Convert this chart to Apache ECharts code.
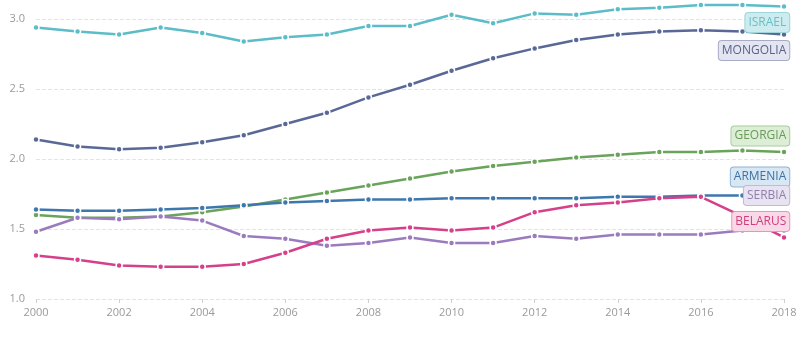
<!DOCTYPE html>
<html>
<head>
<meta charset="utf-8">
<script src="https://cdn.jsdelivr.net/npm/echarts@6/dist/echarts.min.js"></script>
<style>
html,body{margin:0;padding:0;background:#fff;}
#chart{width:807px;height:337px;}
</style>
</head>
<body>
<div id="chart"></div>
<script>
const years = ['2000','2001','2002','2003','2004','2005','2006','2007','2008','2009','2010','2011','2012','2013','2014','2015','2016','2017','2018'];
const yTicks = [1.0, 1.5, 2.0, 2.5, 3.0];

const israel   = [2.94,2.91,2.89,2.94,2.90,2.84,2.87,2.89,2.95,2.95,3.03,2.97,3.04,3.03,3.07,3.08,3.10,3.10,3.09];
const mongolia = [2.14,2.09,2.07,2.08,2.12,2.17,2.25,2.33,2.44,2.53,2.63,2.72,2.79,2.85,2.89,2.91,2.92,2.91,2.89];
const georgia  = [1.60,1.58,1.58,1.59,1.62,1.66,1.71,1.76,1.81,1.86,1.91,1.95,1.98,2.01,2.03,2.05,2.05,2.06,2.05];
const armenia  = [1.64,1.63,1.63,1.64,1.65,1.67,1.69,1.70,1.71,1.71,1.72,1.72,1.72,1.72,1.73,1.73,1.74,1.74,1.75];
const serbia   = [1.48,1.58,1.57,1.59,1.56,1.45,1.43,1.38,1.40,1.44,1.40,1.40,1.45,1.43,1.46,1.46,1.46,1.49,1.49];
const belarus  = [1.31,1.28,1.24,1.23,1.23,1.25,1.33,1.43,1.49,1.51,1.49,1.51,1.62,1.67,1.69,1.72,1.73,1.59,1.44];

const seriesDefs = [
  {name:'ISRAEL',   data:israel,   color:'#5cbcc8', bg:'#cdecef', border:'#9dd5db', text:'#6cbec7', dy:16},
  {name:'MONGOLIA', data:mongolia, color:'#596896', bg:'#e4e5f2', border:'#a8abc3', text:'#5b6384', dy:16},
  {name:'GEORGIA',  data:georgia,  color:'#6aa35a', bg:'#ddeed7', border:'#aacc9f', text:'#699a59', dy:-16},
  {name:'ARMENIA',  data:armenia,  color:'#3e77ae', bg:'#d7e7f3', border:'#8fb4d5', text:'#3e71a6', dy:-17},
  {name:'SERBIA',   data:serbia,   color:'#9a7bbd', bg:'#e9e3f1', border:'#c4b7d7', text:'#8f7fae', dy:-35},
  {name:'BELARUS',  data:belarus,  color:'#d5408a', bg:'#f9d9e7', border:'#e398ba', text:'#cf3f7f', dy:-16}
];

const series = seriesDefs.map(s => ({
  name: s.name,
  type: 'line',
  clip: false,
  symbol: 'circle',
  symbolSize: 6,
  showSymbol: true,
  lineStyle: {width: 2.5, color: s.color},
  itemStyle: {color: s.color, borderColor: '#fff', borderWidth: 1.5},
  emphasis: {disabled: true},
  data: s.data.map((v, i) => i === s.data.length - 1 ? {
    value: v,
    label: {
      show: true,
      formatter: s.name,
      position: 'left',
      distance: 5,
      offset: [14, s.dy],
      fontFamily: 'Open Sans',
      fontSize: 12,
      color: s.text,
      backgroundColor: s.bg,
      borderColor: s.border,
      borderWidth: 1,
      borderRadius: 3,
      padding: [4, 3, 3, 3]
    }
  } : v)
}));

const chart = echarts.init(document.getElementById('chart'));
chart.setOption({
  animation: false,
  grid: {left: 36, right: 23, top: 19, bottom: 38, containLabel: false},
  xAxis: {
    type: 'category',
    data: years,
    boundaryGap: false,
    axisLine: {show: false},
    axisTick: {show: true, interval: 1, length: 4, lineStyle: {color: '#cfcfcf', type: 'dashed'}},
    axisLabel: {interval: 1, color: '#9a9a9a', fontFamily: 'Open Sans', fontSize: 11, margin: 8},
    splitLine: {show: false}
  },
  yAxis: {
    type: 'value',
    min: yTicks[0],
    max: yTicks[yTicks.length - 1],
    interval: 0.5,
    axisLine: {show: false},
    axisTick: {show: false},
    axisLabel: {color: '#9a9a9a', fontFamily: 'Open Sans', fontSize: 11, margin: 11, formatter: v => v.toFixed(1)},
    splitLine: {show: true, lineStyle: {color: '#e3e3e3', type: 'dashed'}}
  },
  series: series
});
</script>
</body>
</html>
